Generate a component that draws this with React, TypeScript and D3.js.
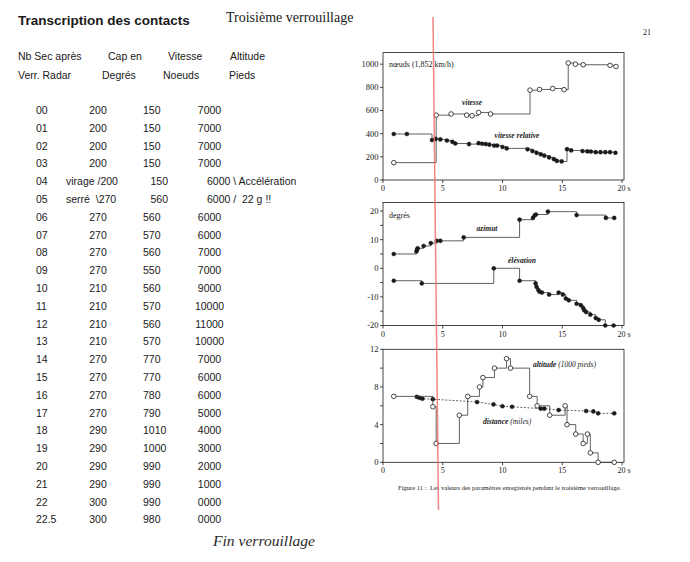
import { useEffect } from "react";
import * as d3 from "d3";

// ---- table (left page) ----
const rowTimes = ["00", "01", "02", "03", "04", "05", "06", "07", "08", "09", "10", "11", "12", "13", "14", "15", "16", "17", "18", "19", "20", "21", "22", "22.5"];
const rowCap = ["200", "200", "200", "200", "virage /200", "serré  \\270", "270", "270", "270", "270", "210", "210", "210", "210", "270", "270", "270", "270", "290", "290", "290", "290", "300", "300"];
const rowSpeed = ["150", "150", "150", "150", "150", "560", "560", "570", "560", "550", "560", "570", "560", "570", "770", "770", "780", "790", "1010", "1000", "990", "990", "990", "980"];
const rowAlt = ["7000", "7000", "7000", "7000", "6000 \\ Accélération", "6000 /  22 g !!", "6000", "6000", "7000", "7000", "9000", "10000", "11000", "10000", "7000", "6000", "6000", "5000", "4000", "3000", "2000", "1000", "0000", "0000"];

// ---- figure 11 series: [seconds, value] ----
const vitesse: [number, number][] = [[0.9, 150], [4.45, 560], [5.7, 570], [7.0, 560], [7.45, 555], [8.0, 583], [9.0, 570], [12.3, 776], [13.1, 782], [14.2, 790], [15.15, 780], [15.5, 1010], [16.1, 1000], [16.75, 995], [19.0, 990], [19.5, 980]];
const vitesseRel: [number, number][] = [[0.9, 397], [2.0, 397], [4.1, 345], [4.4, 355], [4.8, 350], [5.35, 340], [5.8, 330], [6.05, 315], [7.2, 310], [8.0, 318], [8.3, 313], [8.6, 310], [8.9, 305], [9.3, 297], [9.55, 297], [10.0, 285], [10.35, 273], [12.1, 265], [12.5, 250], [12.85, 235], [13.2, 222], [13.5, 210], [13.9, 195], [14.3, 180], [14.55, 165], [14.95, 160], [15.4, 266], [15.75, 255], [16.7, 250], [17.1, 247], [17.4, 245], [17.8, 240], [18.2, 240], [18.6, 240], [19.0, 240], [19.45, 235]];
const azimut: [number, number][] = [[0.9, 5], [2.8, 5.9], [2.85, 6.5], [2.9, 7.0], [3.4, 7.8], [4.0, 8.8], [4.5, 9.6], [4.8, 9.6], [6.75, 10.8], [11.43, 17], [12.55, 17.6], [12.7, 18.5], [12.8, 18.8], [13.8, 19.8], [16.2, 18.6], [18.65, 17.6], [19.35, 17.6]];
const elevation: [number, number][] = [[0.9, -4.35], [3.25, -5.3], [9.27, 0], [11.43, -4.35], [12.77, -5.3], [12.85, -6.5], [13.0, -7.6], [13.1, -8.2], [13.3, -8.5], [13.9, -9.2], [14.7, -8.5], [15.05, -9.2], [15.3, -10.6], [15.55, -11.2], [16.2, -12.4], [16.55, -12.9], [16.75, -13.9], [16.85, -14.7], [17.0, -15.3], [17.35, -16.2], [17.8, -17.4], [18.05, -18], [18.6, -20], [19.3, -20]];
const altitude: [number, number][] = [[0.9, 7], [4.17, 5.9], [4.45, 2], [6.39, 5], [7.09, 7], [8.07, 8], [8.36, 9], [9.33, 10], [10.34, 11], [10.67, 10], [12.27, 7], [12.9, 6], [13.95, 5], [15.24, 6], [15.4, 4], [16.13, 3], [16.75, 2], [17.1, 3], [17.35, 1], [18.0, 0], [19.35, 0]];
const distance: [number, number][] = [[2.83, 6.95], [3.05, 6.85], [3.3, 6.75], [4.17, 6.7], [7.87, 6.4], [9.25, 6.15], [10.0, 5.95], [10.8, 5.9], [13.2, 5.7], [13.5, 5.7], [14.7, 5.55], [17.0, 5.45], [17.6, 5.4], [18.0, 5.2], [19.35, 5.2]];

const xTicks = [0, 5, 10, 15, 20];

const SANS = "'Liberation Sans', Arial, sans-serif";
const SERIF = "'Liberation Serif', 'Times New Roman', serif";
const INK = "#1a1a1a";

const x = d3.scaleLinear().domain([0, 20]).range([383, 622]);
const boxRight = 624;

interface PanelProps {
  y: d3.ScaleLinear<number, number>;
  major: number[];
  minor: number[];
  children?: any;
}

function Panel({ y, major, minor, children }: PanelProps) {
  const [y0, y1] = y.range();
  const left = x.range()[0];
  return (
    <g>
      <rect x={left} y={y1} width={boxRight - left} height={y0 - y1} fill="none" stroke={INK} strokeWidth={0.8} />
      {major.map(v => (
        <g key={"M" + v}>
          <line x1={left - 3} x2={left} y1={y(v)} y2={y(v)} stroke={INK} strokeWidth={0.8} />
          <text x={left - 4.5} y={y(v)} dy="0.35em" textAnchor="end" fontFamily={SERIF} fontSize={8.5} fill={INK}>{v}</text>
        </g>
      ))}
      {minor.map(v => (
        <line key={"m" + v} x1={left - 3} x2={left} y1={y(v)} y2={y(v)} stroke={INK} strokeWidth={0.8} />
      ))}
      {xTicks.map(t => (
        <g key={"x" + t}>
          <line x1={x(t)} x2={x(t)} y1={y0} y2={y0 + 3} stroke={INK} strokeWidth={0.8} />
          <text x={t === 20 ? x(t) - 4.5 : x(t)} y={y0 + 11} textAnchor={t === 20 ? "start" : "middle"} fontFamily={SERIF} fontSize={8} fill={INK}>
            {t === 20 ? "20 s" : t}
          </text>
        </g>
      ))}
      {children}
    </g>
  );
}

function Series({ data, y, open, dashed, step = true }: { data: [number, number][]; y: d3.ScaleLinear<number, number>; open?: boolean; dashed?: boolean; step?: boolean }) {
  const line = d3.line<[number, number]>()
    .x(d => x(d[0]))
    .y(d => y(d[1]))
    .curve(step ? d3.curveStepAfter : d3.curveLinear);
  return (
    <g>
      <path d={line(data) ?? ""} fill="none" stroke="#3a3a3a" strokeWidth={0.8} strokeDasharray={dashed ? "2 1.6" : undefined} />
      {data.map((d, i) => (
        <circle key={i} cx={x(d[0])} cy={y(d[1])} r={open ? 2.3 : 2.1}
          fill={open ? "#fff" : INK} stroke={INK} strokeWidth={open ? 0.8 : 0.3} />
      ))}
    </g>
  );
}

export default function App() {
  useEffect(() => {
    document.body.style.margin = "0";
  }, []);

  const ySpeed = d3.scaleLinear().domain([0, 1100]).range([180, 52.6]);
  const yDeg = d3.scaleLinear().domain([-20, 23]).range([325.5, 202.5]);
  const yAlt = d3.scaleLinear().domain([0, 12]).range([462.3, 349.3]);

  const rowY = (i: number) => 114 + i * 17.8;
  const tableText = { fontFamily: SANS, fontSize: 10.5, fill: INK } as const;

  return (
    <svg width={690} height={562} style={{ display: "block", position: "absolute", left: 0, top: 0, background: "#fff" }}>
      <rect width={690} height={562} fill="#fff" />

      {/* left page: transcription */}
      <text x={18} y={25} fontFamily={SANS} fontSize={13.5} fontWeight="bold" fill={INK}>Transcription des contacts</text>
      <text x={226} y={22} fontFamily={SERIF} fontSize={14} fill={INK}>Troisième verrouillage</text>

      <g {...tableText}>
        <text x={18} y={59.5}>Nb Sec après</text>
        <text x={108} y={59.5}>Cap en</text>
        <text x={168} y={59.5}>Vitesse</text>
        <text x={230} y={59.5}>Altitude</text>
        <text x={18} y={79}>Verr. Radar</text>
        <text x={102} y={79}>Degrés</text>
        <text x={163} y={79}>Noeuds</text>
        <text x={229} y={79}>Pieds</text>
      </g>

      <g {...tableText}>
        {rowTimes.map((t, i) => {
          const note = rowCap[i].length > 4;
          return (
            <g key={t}>
              <text x={36} y={rowY(i)}>{t}</text>
              {note
                ? <text x={66} y={rowY(i)} style={{ whiteSpace: "pre" }}>{rowCap[i]}</text>
                : <text x={98} y={rowY(i)} textAnchor="middle">{rowCap[i]}</text>}
              <text x={note ? 150.5 : 143} y={rowY(i)}>{rowSpeed[i]}</text>
              {note
                ? <text x={207} y={rowY(i)} style={{ whiteSpace: "pre" }}>{rowAlt[i]}</text>
                : <text x={209.5} y={rowY(i)} textAnchor="middle">{rowAlt[i]}</text>}
            </g>
          );
        })}
      </g>

      <text x={213} y={546} fontFamily={SERIF} fontStyle="italic" fontSize={14} fill="#2a2a2a" textLength={102} lengthAdjust="spacingAndGlyphs">Fin verrouillage</text>

      {/* right page: figure 11 */}
      <text x={643} y={35} fontFamily={SERIF} fontSize={8} fill={INK}>21</text>

      <Panel y={ySpeed} major={[0, 200, 400, 600, 800, 1000]} minor={[]}>
        <text x={389} y={67} fontFamily={SERIF} fontSize={8} fill={INK}>nœuds (1,852 km/h)</text>
        <Series data={vitesse} y={ySpeed} open />
        <Series data={vitesseRel} y={ySpeed} />
        <text x={472} y={105} textAnchor="middle" fontFamily={SERIF} fontSize={7.5} fontStyle="italic" fontWeight="bold" fill={INK}>vitesse</text>
        <text x={517} y={137.5} textAnchor="middle" fontFamily={SERIF} fontSize={7.5} fontStyle="italic" fontWeight="bold" fill={INK}>vitesse relative</text>
      </Panel>

      <Panel y={yDeg} major={[-20, -10, 0, 10, 20]} minor={[-15, -5, 5, 15]}>
        <text x={389} y={218} fontFamily={SERIF} fontSize={8} fill={INK}>degrés</text>
        <Series data={azimut} y={yDeg} />
        <Series data={elevation} y={yDeg} />
        <text x={487} y={230.5} textAnchor="middle" fontFamily={SERIF} fontSize={7.5} fontStyle="italic" fontWeight="bold" fill={INK}>azimut</text>
        <text x={522} y={262.5} textAnchor="middle" fontFamily={SERIF} fontSize={7.5} fontStyle="italic" fontWeight="bold" fill={INK}>élévation</text>
      </Panel>

      <Panel y={yAlt} major={[0, 4, 8, 12]} minor={[2, 6, 10]}>
        <Series data={distance} y={yAlt} dashed step={false} />
        <Series data={altitude} y={yAlt} open />
        <text x={533} y={366.5} fontFamily={SERIF} fontSize={7.5} fontStyle="italic" fill={INK}>
          <tspan fontWeight="bold">altitude</tspan> (1000 pieds)
        </text>
        <text x={483} y={423.5} fontFamily={SERIF} fontSize={7.5} fontStyle="italic" fill={INK}>
          <tspan fontWeight="bold">distance</tspan> (miles)
        </text>
      </Panel>

      <text x={398} y={490} fontFamily={SERIF} fontSize={6.2} fill={INK} textLength={223} lengthAdjust="spacingAndGlyphs" style={{ whiteSpace: "pre" }}>
        Figure 11 :  Les valeurs des paramètres enregistrés pendant le troisième verrouillage.
      </text>

      {/* red pen mark across the figure */}
      <line x1={433} y1={17} x2={438.5} y2={510} stroke="#f07070" strokeWidth={1.5} opacity={0.85} />
    </svg>
  );
}
